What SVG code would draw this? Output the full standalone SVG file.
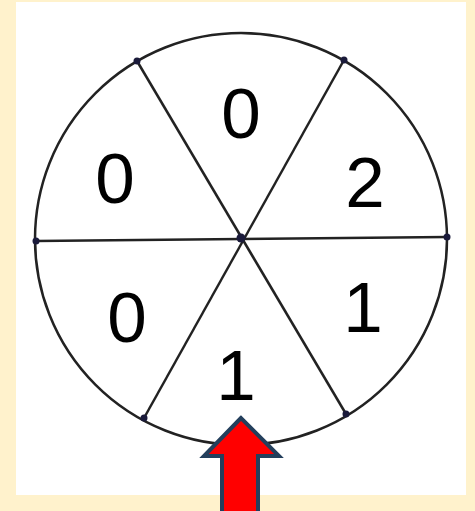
<svg xmlns="http://www.w3.org/2000/svg" width="475" height="511" viewBox="0 0 475 511">
<style>
.ln{stroke:#222;stroke-width:2.5;fill:none}
.dot{fill:#1a1a3a}
.num{font-family:"Liberation Sans",Arial,sans-serif;font-size:71px;fill:#000;text-anchor:middle}
</style>
<rect x="0" y="0" width="475" height="511" fill="#FFF2CC"/>
<rect x="16" y="2" width="450" height="493" fill="#FFFFFF"/>
<g id="wheel">
<circle cx="241" cy="239" r="206" class="ln"/>
</g>
<g id="connectors">
<line class="ln" x1="137" y1="61" x2="346" y2="414"/>
<line class="ln" x1="344" y1="60" x2="144" y2="418"/>
<line class="ln" x1="36" y1="241" x2="447" y2="237"/>
</g>
<g id="points">
<circle class="dot" cx="137" cy="61" r="3.5"/>
<circle class="dot" cx="344" cy="60" r="3.5"/>
<circle class="dot" cx="36" cy="241" r="3.5"/>
<circle class="dot" cx="447" cy="237" r="3.5"/>
<circle class="dot" cx="144" cy="418" r="3.5"/>
<circle class="dot" cx="346" cy="414" r="3.5"/>
<circle class="dot" cx="241" cy="238" r="4.5"/>
</g>
<g id="labels">
<text class="num" x="241" y="138">0</text>
<text class="num" x="115" y="203">0</text>
<text class="num" x="365" y="207">2</text>
<text class="num" x="127" y="342">0</text>
<text class="num" x="363" y="332">1</text>
<text class="num" x="236" y="400">1</text>
</g>
<g id="arrow">
<polygon points="241,418 204,456 222,456 222,515 258,515 258,456 279,456" fill="#FF0000" stroke="#243F5C" stroke-width="4" stroke-linejoin="miter"/>
</g>
</svg>
